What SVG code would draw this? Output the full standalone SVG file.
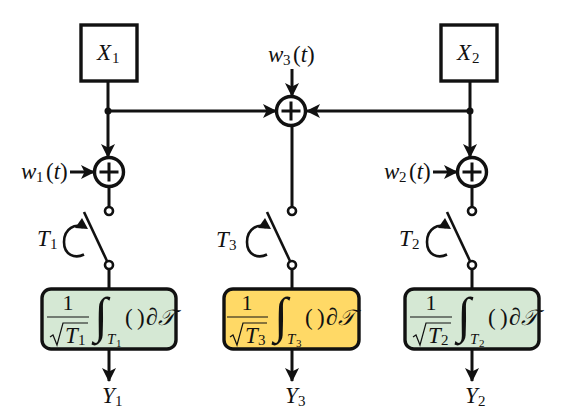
<svg xmlns="http://www.w3.org/2000/svg" width="583" height="419" viewBox="0 0 583 419">
<style>
text{font-family:"Liberation Serif","DejaVu Serif",serif;fill:#111}
.i{font-style:italic;font-size:23px}
.s{font-size:15px}
.p{font-size:23px}
.si{font-style:italic;font-size:15px}
.ss{font-size:11px}
.n{font-size:22px;text-anchor:middle}
.g{font-size:50px;font-style:italic}
.d{font-size:24px;font-style:italic}
.h{font-size:22px;font-style:italic}
.b{fill:#fff;stroke:#111;stroke-width:3.4}
.c{fill:none;stroke:#111;stroke-width:3}
.t{fill:none;stroke:#111;stroke-width:2.6}
.o{fill:#fff;stroke:#111;stroke-width:2.6}
.k{fill:none;stroke:#111;stroke-width:2.6}
.l{stroke:#111;stroke-width:1.2;fill:none}
.r{stroke:#111;stroke-width:3.4}
</style>
<defs>
<marker id="a" viewBox="0 0 14 14" refX="13" refY="7" markerWidth="14" markerHeight="14" markerUnits="userSpaceOnUse" orient="auto"><path d="M0 0L14 7L0 14L3.5 7Z" fill="#111"/></marker>
<g id="plus"><circle r="14.5" class="b"/><path d="M-9.5 0H9.5M0-9.5V9.5" class="c"/></g>
<g id="sw"><circle cx="0" cy="0" r="4" class="o"/><circle cx="0" cy="54" r="4" class="o"/><path d="M-25 1L-2 50" class="t"/><path d="M-26 16.500C-33 12 -45 17 -45 31C-45 44 -34 48 -25 43.500" class="k"/><path d="M-34 17L-27 7L-21 18Z" fill="#111"/></g>
</defs>
<g id="connectors" fill="none" stroke="#111" stroke-width="3">
<path d="M108 81V157" marker-end="url(#a)"/>
<path d="M108 111H276" marker-end="url(#a)"/>
<path d="M470 81V157" marker-end="url(#a)"/>
<path d="M470 111H307" marker-end="url(#a)"/>
<path d="M292 69V96" marker-end="url(#a)"/>
<path d="M70 172H94" marker-end="url(#a)"/>
<path d="M433 172H457" marker-end="url(#a)"/>
<path d="M109 187V207M292 126V207M472 187V207"/>
<path d="M109 269V289M292 269V289M472 269V289"/>
<path d="M109 350V381" marker-end="url(#a)"/>
<path d="M292 350V381" marker-end="url(#a)"/>
<path d="M472 350V381" marker-end="url(#a)"/>
<circle cx="108" cy="111" r="3.500" fill="#111" stroke="none"/>
<circle cx="470" cy="111" r="3.500" fill="#111" stroke="none"/>
</g>
<g id="x1"><rect x="81" y="25" width="56" height="56" class="b"/><text x="97" y="60" class="i">X</text><text x="112" y="63" class="s">1</text></g>
<g id="x2"><rect x="441" y="25" width="56" height="56" class="b"/><text x="457" y="60" class="i">X</text><text x="472" y="63" class="s">2</text></g>
<g id="w3"><text x="268" y="62" class="i">w</text><text x="283" y="65" class="s">3</text><text x="293" y="62" class="p">(<tspan font-style="italic">t</tspan>)</text></g>
<g id="w1"><text x="21" y="179" class="i">w</text><text x="36" y="182" class="s">1</text><text x="46" y="179" class="p">(<tspan font-style="italic">t</tspan>)</text></g>
<g id="w2"><text x="384" y="179" class="i">w</text><text x="399" y="182" class="s">2</text><text x="409" y="179" class="p">(<tspan font-style="italic">t</tspan>)</text></g>
<use id="sum3" href="#plus" x="291" y="111"/>
<use id="sum1" href="#plus" x="109" y="172"/>
<use id="sum2" href="#plus" x="472" y="172"/>
<use id="switch1" href="#sw" x="109" y="211"/>
<use id="switch3" href="#sw" x="292" y="211"/>
<use id="switch2" href="#sw" x="472" y="211"/>
<g id="t1"><text x="37" y="246" class="i">T</text><text x="50" y="249" class="s">1</text></g>
<g id="t3"><text x="216" y="247" class="i">T</text><text x="229" y="250" class="s">3</text></g>
<g id="t2"><text x="399" y="246" class="i">T</text><text x="412" y="249" class="s">2</text></g>
<g id="int1"><rect x="42" y="289" width="134" height="60" rx="9" fill="#d5e8d4" class="r"/>
<text x="68" y="310" class="n">1</text><path d="M47 317H89" class="l"/><path d="M50 337L53 335L57 345L63 323H88" class="l"/><text x="65" y="343" class="i">T</text><text x="78" y="345" class="s">1</text>
<text x="94" y="332" class="g">∫</text><text x="107" y="344" class="si">T</text><text x="116" y="347" class="ss">1</text><text x="125" y="325" class="p">(</text><text x="137" y="325" class="p">)</text><text x="146" y="325" class="d">∂</text><text x="158" y="325" class="h">𝒯</text></g>
<g id="int3"><rect x="224" y="289" width="135" height="60" rx="9" fill="#ffd966" class="r"/>
<text x="247" y="310" class="n">1</text><path d="M227 317H268" class="l"/><path d="M230 337L233 335L237 345L243 323H267" class="l"/><text x="245" y="343" class="i">T</text><text x="258" y="345" class="s">3</text>
<text x="274" y="332" class="g">∫</text><text x="287" y="344" class="si">T</text><text x="296" y="347" class="ss">3</text><text x="305" y="325" class="p">(</text><text x="317" y="325" class="p">)</text><text x="326" y="325" class="d">∂</text><text x="338" y="325" class="h">𝒯</text></g>
<g id="int2"><rect x="405" y="289" width="134" height="60" rx="9" fill="#d5e8d4" class="r"/>
<text x="431" y="310" class="n">1</text><path d="M410 317H452" class="l"/><path d="M413 337L416 335L420 345L426 323H451" class="l"/><text x="428" y="343" class="i">T</text><text x="441" y="345" class="s">2</text>
<text x="457" y="332" class="g">∫</text><text x="470" y="344" class="si">T</text><text x="479" y="347" class="ss">2</text><text x="488" y="325" class="p">(</text><text x="500" y="325" class="p">)</text><text x="509" y="325" class="d">∂</text><text x="521" y="325" class="h">𝒯</text></g>
<g id="y1"><text x="102" y="403" class="i">Y</text><text x="115" y="406" class="s">1</text></g>
<g id="y3"><text x="285" y="403" class="i">Y</text><text x="298" y="406" class="s">3</text></g>
<g id="y2"><text x="465" y="403" class="i">Y</text><text x="478" y="406" class="s">2</text></g>
</svg>
